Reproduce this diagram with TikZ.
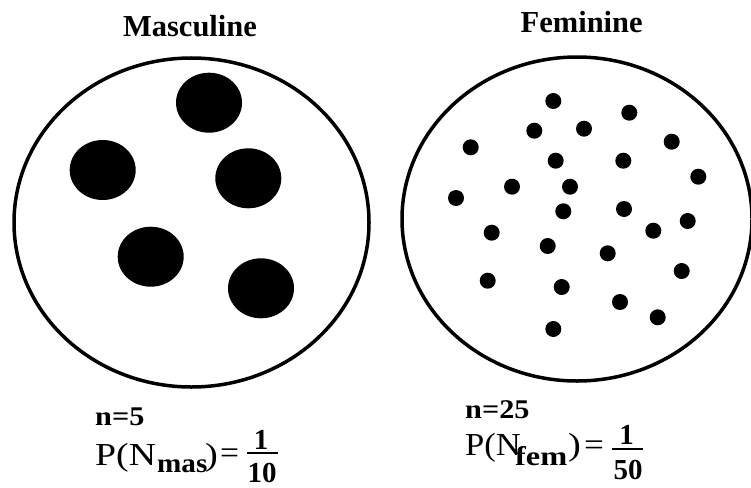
\documentclass[tikz,border=0pt]{standalone}
\usepackage{fontspec}
\setmainfont{Liberation Serif}
\begin{document}
\begin{tikzpicture}[x=1pt,y=-1pt,
  ring/.style={draw=black, line width=3.5pt},
  blob/.style={fill=black},
  dot/.style={fill=black},
  ttl/.style={inner sep=0pt, anchor=base, font=\fontsize{30.5}{36}\selectfont\bfseries},
  txt/.style={inner sep=0pt, anchor=base west},
  frc/.style={inner sep=0pt, anchor=base, font=\fontsize{29}{32}\selectfont\bfseries}]
\useasboundingbox (0,0) rectangle (751,487);
\clip (0,0) rectangle (751,487);
% titles
\node[ttl] (tmas) at (190,36.7) {Masculine};
\node[ttl] (tfem) at (581.7,32.7) {Feminine};
% circles
\draw[ring] (191.5,222.5) ellipse [x radius=177.5, y radius=164.5];
\draw[ring] (577,219) ellipse [x radius=175, y radius=162];
% masculine blobs
\foreach \p in {(209,102.7),(102.7,170),(248.3,178.3),(150.7,256.7),(261,288.3)}
  \fill[blob] \p ellipse [x radius=33, y radius=30];
% feminine dots
\foreach \p in {(553.3,101),(629.3,112.7),(534.3,130.7),(584,128.7),(671.7,141.7),
  (470.7,147.3),(555.7,160.7),(623.3,160.7),(698.3,176.7),(512,186.7),
  (570,186.7),(456,198),(563.3,211.3),(624,209),(687.7,221),
  (491.7,232.7),(653.3,230.7),(547.7,246),(607.7,253.3),(681.7,271),
  (487.7,280.7),(561.7,287),(620,302),(657.7,317.3),(553.3,329)}
  \fill[dot] \p circle [radius=8];
% left labels
\node[txt] (n1) at (95,425) {\fontsize{27}{30}\selectfont\bfseries\scalebox{1.12}[1]{n=5}};
\node[txt] (p1) at (95,465) {\fontsize{32}{36}\selectfont\scalebox{1.18}[1]{P(N}};
\node[txt] (s1) at (157,472) {\fontsize{27}{30}\selectfont\bfseries\scalebox{1.08}[1]{mas}};
\node[txt] (c1) at (205,465) {\fontsize{32}{36}\selectfont\scalebox{1.2}[1]{)}};
\node[txt] (e1) at (220,463) {\fontsize{32}{36}\selectfont\scalebox{1.05}[1]{=}};
\node[frc] (a1) at (261,449) {1};
\node[frc] (b1) at (262,482.5) {10};
\draw[line width=2pt] (247,453) -- (278,453);
% right labels
\node[txt] (n2) at (465,418) {\fontsize{27}{30}\selectfont\bfseries\scalebox{1.12}[1]{n=25}};
\node[txt] (p2) at (465,455) {\fontsize{32}{36}\selectfont\scalebox{1.08}[1]{P(N}};
\node[txt] (s2) at (515,465) {\fontsize{27}{30}\selectfont\bfseries\scalebox{1.2}[1]{fem}};
\node[txt] (c2) at (568,455) {\fontsize{32}{36}\selectfont\scalebox{1.2}[1]{)}};
\node[txt] (e2) at (584,455) {\fontsize{32}{36}\selectfont\scalebox{1.1}[1]{=}};
\node[frc] (a2) at (626.5,444) {1};
\node[frc] (b2) at (628,479.5) {50};
\draw[line width=2pt] (612,449) -- (643,449);
\end{tikzpicture}
\end{document}
